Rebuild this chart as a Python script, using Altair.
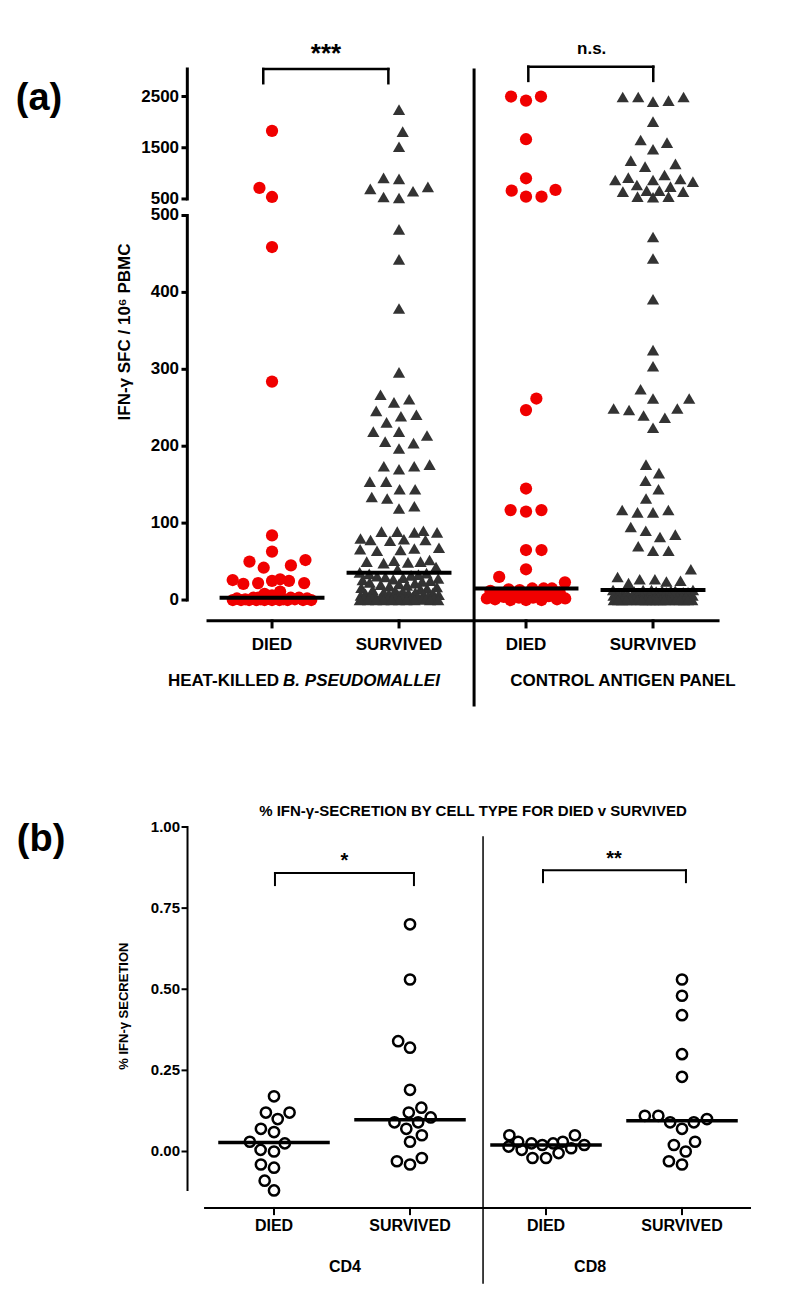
import altair as alt
import numpy as np
import pandas as pd

# ================= DATA : panel (a) =================
cats_a = ["DIED", "SURVIVED", "DIED", "SURVIVED"]
group_a_left = "HEAT-KILLED"
group_a_left_italic = "B. PSEUDOMALLEI"
group_a_right = "CONTROL ANTIGEN PANEL"
y_title_a = "IFN-\u03b3 SFC / 10\u2076 PBMC"
ticks_a_lower = [0, 100, 200, 300, 400, 500]
ticks_a_upper = [500, 1500, 2500]
sig_a = ["***", "n.s."]

hk_died = [1830, 716, 539, 459, 284, 84, 63, 52, 50, 45, 42, 27, 26, 25, 25, 22, 22, 21,
           11, 8, 6, 3, 3, 3, 3, 2, 2, 2, 2, 1, 1, 1, 1, 0, 0, 0, 0, 0, 0, 0, 0, 0, 0]
hk_survived = [2245, 1814, 1520, 912, 892, 735, 696, 650, 539, 520,
               482, 443, 379, 296, 267, 261, 257, 246, 241, 239, 231, 219, 219, 214, 206,
               204, 197, 176, 174, 174, 170, 154, 154, 144, 144, 134, 132, 122, 119,
               90, 89, 89, 88, 88, 80, 79, 78, 78, 77, 68, 67, 66, 65, 64, 52, 51, 50, 50,
               49, 48, 43, 40, 36,
               35, 34, 33, 32, 31, 30, 29, 28, 27, 26, 25, 24, 23, 22, 21, 20, 19, 18, 17,
               16, 15, 14, 13, 12, 11, 10, 10, 9, 9, 8, 8, 7, 7, 6, 6, 5, 5, 5, 4, 4, 4,
               3, 3, 3, 2, 2, 2, 2, 1, 1, 1, 1, 1, 0, 0, 0, 0, 0, 0, 0, 0, 0, 0]
ctrl_died = [2500, 2420, 2500, 1666, 904, 676, 662, 545, 545,
             262, 247, 145, 117, 117, 115, 65, 65, 40, 30, 23,
             15, 15, 15, 14, 13, 12, 10, 9, 8, 7, 6, 5, 4, 3, 3, 2, 2, 1, 1, 0, 0, 0]
ctrl_survived = [2490, 2490, 2490, 2420, 2400, 2010, 1652, 1600, 1470, 1248, 1184, 1131,
                 969, 916, 890, 871, 871, 838, 773, 740, 662, 662, 643, 643, 545, 545, 533,
                 472, 444, 391, 325, 304, 274, 262, 262, 249, 249, 247, 240, 237, 224, 176,
                 165, 155, 144, 132, 117, 117, 114, 114, 95, 90, 85, 82, 70, 64, 64, 40, 30,
                 27, 27, 25, 24, 22,
                 13, 13, 13, 13, 12, 12, 12, 11, 11, 10, 10, 10, 9, 9, 9, 8, 8, 8, 7, 7, 7,
                 6, 6, 6, 5, 5, 5, 5, 4, 4, 4, 4, 3, 3, 3, 3, 2, 2, 2, 2, 2, 1, 1, 1, 1, 1, 1,
                 0, 0, 0, 0, 0, 0, 0, 0, 0, 0, 0, 0, 0, 0, 0, 0, 0, 0, 0]

# ================= DATA : panel (b) =================
cats_b = ["DIED", "SURVIVED", "DIED", "SURVIVED"]
groups_b = ["CD4", "CD8"]
title_b = "% IFN-\u03b3-SECRETION BY CELL TYPE FOR DIED v SURVIVED"
y_title_b = "% IFN-\u03b3 SECRETION"
ticks_b = [0.0, 0.25, 0.5, 0.75, 1.0]
sig_b = ["*", "**"]

cd4_died = [0.17, 0.12, 0.12, 0.10, 0.07, 0.06, 0.03, 0.025, 0.005, 0.00, -0.04, -0.05, -0.09, -0.12]
cd4_survived = [0.70, 0.53, 0.34, 0.32, 0.19, 0.135, 0.12, 0.105, 0.09, 0.09, 0.07, 0.05, 0.03,
                -0.02, -0.03, -0.04]
cd8_died = [0.05, 0.05, 0.03, 0.03, 0.025, 0.025, 0.02, 0.02, 0.015, 0.01, 0.005, -0.005, -0.02, -0.02]
cd8_survived = [0.53, 0.48, 0.42, 0.30, 0.23, 0.11, 0.11, 0.10, 0.09, 0.09, 0.07, 0.03, 0.02, 0.00,
                -0.03, -0.04]

# ================= layout / style =================
RED = "#f00000"
DARK = "#333333"
FONT_A = "Liberation Sans, Arial, sans-serif"
FONT_B = "Liberation Sans Narrow, Arial Narrow, Liberation Sans, Arial, sans-serif"
W = 779
HA, HB = 712, 576

# broken y axis of panel (a): values above BREAK are compressed
BREAK, GAP, UPPER_K = 500, 21.5, 0.0666
A_PX = 0.769          # px per display unit in panel (a)
A_STEP = 127.0        # px between categories in panel (a)
B_PX = 324.5          # px per unit in panel (b)
B_STEP = 136.0

XA = [-1.079, 5.055]
YA = [-156.0, 769.8]
XB = [-0.956, 4.772]
YB = [-0.4453, 1.3297]

disp_expr = (f"(datum.value > {BREAK} || datum.seg == 'upper') ? "
             f"{BREAK + GAP} + (datum.value - {BREAK}) * {UPPER_K} : datum.value")


def disp_a(v):
    return v if v <= BREAK else BREAK + GAP + (v - BREAK) * UPPER_K


def swarm(ypix, diam, maxhalf):
    ypix = np.asarray(ypix, float)
    order = np.argsort(ypix, kind="stable")
    xs = np.zeros(len(ypix))
    px, py = [], []
    for j, i in enumerate(order):
        y = ypix[i]
        d = diam
        while True:
            iv = []
            for a, b in zip(px, py):
                dy = abs(b - y)
                if dy < d:
                    w = np.sqrt(d * d - dy * dy)
                    iv.append((a - w, a + w))
            cands = [0.0] + [lo for lo, hi in iv] + [hi for lo, hi in iv]
            ok = [c for c in cands if all(not (lo + 1e-6 < c < hi - 1e-6) for lo, hi in iv)]
            sgn = 1 if j % 2 else -1
            best = min(ok, key=lambda c: (round(abs(c), 3), sgn * c))
            if abs(best) <= maxhalf or d < 1.5:
                break
            d *= 0.9
        best = float(np.clip(best, -maxhalf, maxhalf))
        xs[i] = best
        px.append(best)
        py.append(y)
    return xs


rows = []
for pos, vals, kind in [(1, hk_died, "circle"), (2, hk_survived, "triangle"),
                        (3, ctrl_died, "circle"), (4, ctrl_survived, "triangle")]:
    off = swarm([disp_a(v) * A_PX for v in vals], 15.5, 40) / A_STEP
    for v, o in zip(vals, off):
        rows.append({"value": v, "pos": pos, "kind": kind, "dx": o})
df_a = pd.DataFrame(rows)

rows = []
for pos, vals in [(1, cd4_died), (2, cd4_survived), (3, cd8_died), (4, cd8_survived)]:
    off = swarm([v * B_PX for v in vals], 13.5, 40) / B_STEP
    for v, o in zip(vals, off):
        rows.append({"value": v, "pos": pos, "dx": o})
df_b = pd.DataFrame(rows)

xa = alt.Scale(domain=XA, nice=False, zero=False)
ya = alt.Scale(domain=YA, nice=False, zero=False)
xb = alt.Scale(domain=XB, nice=False, zero=False)
yb = alt.Scale(domain=YB, nice=False, zero=False)


def X(f, s):
    return alt.X(f, type="quantitative", scale=s, axis=None)


def Y(f, s):
    return alt.Y(f, type="quantitative", scale=s, axis=None)


def vrules(df, sx, sy, w):
    return alt.Chart(df).mark_rule(color="black", strokeWidth=w, strokeCap="square").encode(
        x=X("x", sx), y=Y("y", sy), y2=alt.Y2("y2:Q"))


def hrules(df, sx, sy, w, cap="square"):
    return alt.Chart(df).mark_rule(color="black", strokeWidth=w, strokeCap=cap).encode(
        x=X("x", sx), x2=alt.X2("x2:Q"), y=Y("y", sy))


def texts(df, sx, sy, font, size, align="center", baseline="middle", angle=0, style="normal",
          weight="bold"):
    kw = dict(font=font, fontSize=size, fontWeight=weight, align=align, baseline=baseline,
              color="black", fontStyle=style)
    if angle:
        kw["angle"] = angle
    return alt.Chart(df).mark_text(**kw).encode(x=X("x", sx), y=Y("y", sy), text="label:N")


# ================= panel (a) =================
pts_c = alt.Chart(df_a).transform_filter("datum.kind == 'circle'").transform_calculate(
    disp=disp_expr, xx="datum.pos + datum.dx").mark_point(
    shape="circle", filled=True, size=150, color=RED, opacity=1).encode(
    x=X("xx", xa), y=Y("disp", ya))
pts_t = alt.Chart(df_a).transform_filter("datum.kind == 'triangle'").transform_calculate(
    disp=disp_expr, xx="datum.pos + datum.dx").mark_point(
    shape="triangle-up", filled=True, size=150, color=DARK, opacity=1).encode(
    x=X("xx", xa), y=Y("disp", ya))
med_a = alt.Chart(df_a).transform_aggregate(
    med="median(value)", groupby=["pos"]).transform_calculate(
    value="datum.med", x1="datum.pos - 0.413", x2="datum.pos + 0.413").transform_calculate(
    disp=disp_expr).mark_rule(color="black", strokeWidth=4).encode(
    x=X("x1", xa), x2=alt.X2("x2:Q"), y=Y("disp", ya))

AX_A = 0.333
axis_a_v = vrules(pd.DataFrame({"x": [AX_A, AX_A, 2.591],
                                "y": [0, disp_a(BREAK) + 0.0 + GAP, -136.5],
                                "y2": [BREAK, 690.5, 689.2]}), xa, ya, 3)
tick_df_a = pd.DataFrame({"value": ticks_a_lower + ticks_a_upper,
                          "seg": ["lower"] * len(ticks_a_lower) + ["upper"] * len(ticks_a_upper)})
tick_df_a["label"] = tick_df_a["value"].astype(str)
ticks_a = alt.Chart(tick_df_a).transform_calculate(disp=disp_expr, x1="0.287", x2=str(AX_A)).mark_rule(
    color="black", strokeWidth=3).encode(x=X("x1", xa), x2=alt.X2("x2:Q"), y=Y("disp", ya))
tick_lab_a = alt.Chart(tick_df_a).transform_calculate(disp=disp_expr, xt="0.268").mark_text(
    font=FONT_A, fontSize=17, fontWeight="bold", align="right", baseline="middle").encode(
    x=X("xt", xa), y=Y("disp", ya), text="label:N")
xaxis_a = hrules(pd.DataFrame({"x": [0.496], "x2": [4.512], "y": [-27]}), xa, ya, 3)
xticks_a = vrules(pd.DataFrame({"x": [1, 2, 3, 4], "y": [-27] * 4, "y2": [-35] * 4}), xa, ya, 3)
cat_lab_a = texts(pd.DataFrame({"label": cats_a, "x": [1, 2, 3, 4], "y": [-58] * 4}),
                  xa, ya, FONT_A, 17)
grp_a1 = texts(pd.DataFrame({"label": [group_a_left], "x": [1.055], "y": [-105]}),
               xa, ya, FONT_A, 17, align="right")
grp_a2 = texts(pd.DataFrame({"label": [group_a_left_italic], "x": [1.087], "y": [-105]}),
               xa, ya, FONT_A, 17, align="left", style="italic")
grp_a3 = texts(pd.DataFrame({"label": [group_a_right], "x": [3.764], "y": [-105]}),
               xa, ya, FONT_A, 17)
panel_a_lab = texts(pd.DataFrame({"label": ["(a)"], "x": [-0.835], "y": [651.5]}),
                    xa, ya, FONT_A, 38)
ytitle_a = texts(pd.DataFrame({"label": [y_title_a], "x": [-0.157], "y": [348.5]}),
                 xa, ya, FONT_A, 17, angle=270)
br_a_h = hrules(pd.DataFrame({"x": [0.931, 3.018], "x2": [1.916, 4.002], "y": [690.5, 693.5]}),
                xa, ya, 2.5)
br_a_v = vrules(pd.DataFrame({"x": [0.931, 1.916, 3.018, 4.002],
                              "y": [690.5, 690.5, 693.5, 693.5],
                              "y2": [672, 672, 675, 675]}), xa, ya, 2.5)
sig_a1 = texts(pd.DataFrame({"label": [sig_a[0]], "x": [1.425], "y": [699.6]}),
               xa, ya, FONT_A, 26, baseline="alphabetic")
sig_a2 = texts(pd.DataFrame({"label": [sig_a[1]], "x": [3.517], "y": [709.6]}),
               xa, ya, FONT_A, 17, baseline="alphabetic")

panel_a = alt.layer(axis_a_v, ticks_a, tick_lab_a, xaxis_a, xticks_a, cat_lab_a, grp_a1, grp_a2,
                    grp_a3, panel_a_lab, ytitle_a, br_a_h, br_a_v, sig_a1, sig_a2,
                    pts_c, pts_t, med_a).properties(width=W, height=HA)

# ================= panel (b) =================
pts_b = alt.Chart(df_b).transform_calculate(xx="datum.pos + datum.dx").mark_point(
    shape="circle", filled=False, size=104, color="black", strokeWidth=2.5, opacity=1).encode(
    x=X("xx", xb), y=Y("value", yb))
med_b = alt.Chart(df_b).transform_aggregate(
    med="median(value)", groupby=["pos"]).transform_calculate(
    x1="datum.pos - 0.41", x2="datum.pos + 0.41").mark_rule(color="black", strokeWidth=3.5).encode(
    x=X("x1", xb), x2=alt.X2("x2:Q"), y=Y("med", yb))

AX_B = 0.364
axis_b_v = vrules(pd.DataFrame({"x": [AX_B], "y": [-0.119], "y2": [1.0]}), xb, yb, 2)
sep_b = vrules(pd.DataFrame({"x": [2.537], "y": [-0.405], "y2": [0.969]}), xb, yb, 1.5)
tick_df_b = pd.DataFrame({"value": ticks_b})
ticks_b_m = alt.Chart(tick_df_b).transform_calculate(x1="0.320", x2=str(AX_B)).mark_rule(
    color="black", strokeWidth=2).encode(x=X("x1", xb), x2=alt.X2("x2:Q"), y=Y("value", yb))
tick_lab_b = alt.Chart(tick_df_b).transform_calculate(xt="0.309").mark_text(
    font=FONT_B, fontSize=15, fontWeight="bold", align="right", baseline="middle").encode(
    x=X("xt", xb), y=Y("value", yb), text=alt.Text("value:Q", format=".2f"))
xaxis_b = hrules(pd.DataFrame({"x": [0.493], "x2": [4.5], "y": [-0.174]}), xb, yb, 2)
xticks_b = vrules(pd.DataFrame({"x": [1, 2, 3, 4], "y": [-0.174] * 4, "y2": [-0.193] * 4}),
                  xb, yb, 2)
cat_lab_b = texts(pd.DataFrame({"label": cats_b, "x": [1, 2, 3, 4], "y": [-0.2296] * 4}),
                  xb, yb, FONT_B, 16)
grp_b = texts(pd.DataFrame({"label": groups_b, "x": [1.522, 3.324], "y": [-0.356] * 2}),
              xb, yb, FONT_B, 16)
title_b_m = texts(pd.DataFrame({"label": [title_b], "x": [2.463], "y": [1.049]}),
                  xb, yb, FONT_B, 15)
panel_b_lab = texts(pd.DataFrame({"label": ["(b)"], "x": [-0.713], "y": [0.960]}),
                    xb, yb, FONT_A, 38)
ytitle_b = texts(pd.DataFrame({"label": [y_title_b], "x": [-0.103], "y": [0.448]}),
                 xb, yb, FONT_B, 13, angle=270)
br_b_h = hrules(pd.DataFrame({"x": [1.007, 2.978], "x2": [2.029, 4.029], "y": [0.858, 0.867]}),
                xb, yb, 2)
br_b_v = vrules(pd.DataFrame({"x": [1.007, 2.029, 2.978, 4.029],
                              "y": [0.858, 0.858, 0.867, 0.867],
                              "y2": [0.821, 0.821, 0.830, 0.830]}), xb, yb, 2)
sig_b_m = texts(pd.DataFrame({"label": sig_b, "x": [1.518, 3.50], "y": [0.878, 0.884]}),
                xb, yb, FONT_A, 20, baseline="alphabetic")

panel_b = alt.layer(axis_b_v, sep_b, ticks_b_m, tick_lab_b, xaxis_b, xticks_b, cat_lab_b, grp_b,
                    title_b_m, panel_b_lab, ytitle_b, br_b_h, br_b_v, sig_b_m,
                    pts_b, med_b).properties(width=W, height=HB)

chart = alt.vconcat(panel_a, panel_b, spacing=0, padding=0).configure_view(stroke=None)
chart.save("out.html", embed_options={"renderer": "svg", "actions": False})
